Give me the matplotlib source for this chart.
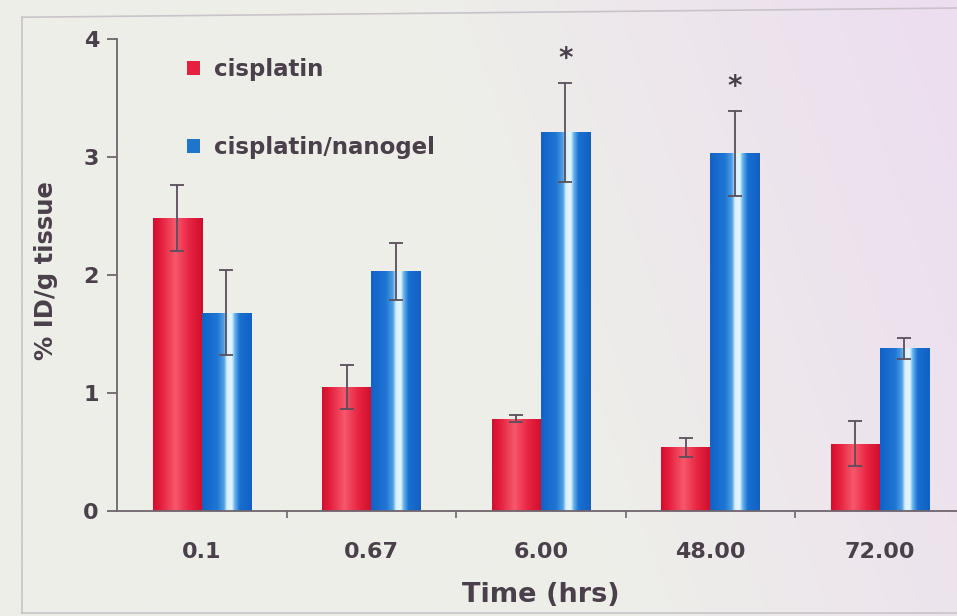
import numpy as np
import matplotlib.pyplot as plt

# data
times = ['0.1', '0.67', '6.00', '48.00', '72.00']
cis = [2.48, 1.05, 0.78, 0.54, 0.57]
cis_err = [0.28, 0.19, 0.03, 0.08, 0.19]
nano = [1.68, 2.03, 3.21, 3.03, 1.38]
nano_err = [0.36, 0.245, 0.42, 0.36, 0.09]
signif = [False, False, True, True, False]
labels = ['cisplatin', 'cisplatin/nanogel']

plt.rcParams['font.family'] = 'DejaVu Sans'
plt.rcParams['font.weight'] = 'bold'
txt = '#4a3f4a'
axc = '#6e646e'

fig = plt.figure(figsize=(9.57, 6.16), dpi=100)

# background: photographed slide, slightly pink on the right
bg = fig.add_axes([0, 0, 1, 1], zorder=0)
yy, xx = np.mgrid[0:1:62j, 0:1:96j]
base = np.array([238, 238, 233]) / 255
pink = np.array([236, 221, 240]) / 255
t = np.clip((xx - 0.45) * 1.8 - yy * 0.4, 0, 1)[..., None]
bg.imshow(base * (1 - t) + pink * t, extent=[0, 1, 0, 1], aspect='auto', interpolation='bilinear')
bg.plot([0.023, 0.023], [0.005, 0.972], color='#c9c3c9', lw=1.2)
bg.plot([0.023, 1.0], [0.972, 0.987], color='#c9c3c9', lw=1.2)
bg.plot([0.023, 1.0], [0.005, 0.005], color='#c9c3c9', lw=1.2)
bg.set_xlim(0, 1)
bg.set_ylim(0, 1)
bg.axis('off')

ax = fig.add_axes([0.1223, 0.1705, 0.8856, 0.7662], zorder=1)
ax.set_facecolor('none')

x = np.arange(len(times))
bw = 0.29
b1 = ax.bar(x - bw / 2, cis, bw, color='#e8203f', zorder=2, label=labels[0])
b2 = ax.bar(x + bw / 2, nano, bw, color='#1f74cc', zorder=2, label=labels[1])

# cylinder-like shading inside the bars
def profile(stops, n=60):
    pos = np.linspace(0, 1, n)
    p = [s[0] for s in stops]
    rgb = np.array([s[1] for s in stops]) / 255
    return np.stack([np.interp(pos, p, rgb[:, k]) for k in range(3)], axis=-1)[None, :, :]

red_grad = profile([(0, (210, 16, 46)), (0.15, (228, 30, 60)), (0.45, (246, 88, 108)),
                    (0.72, (232, 38, 68)), (1, (208, 14, 44))])
blue_grad = profile([(0, (18, 98, 200)), (0.3, (30, 118, 212)), (0.44, (80, 160, 228)),
                     (0.5, (215, 240, 255)), (0.6, (228, 246, 255)), (0.66, (100, 178, 236)),
                     (0.76, (24, 112, 208)), (1, (18, 96, 196))])
for bars, grad in [(b1, red_grad), (b2, blue_grad)]:
    for b in bars:
        im = ax.imshow(grad, extent=[b.get_x(), b.get_x() + b.get_width(), 0, b.get_height()],
                       aspect='auto', zorder=2.1, interpolation='bilinear')
        im.set_clip_path(b)

ek = dict(fmt='none', ecolor='#5a4e5a', elinewidth=1.3, capsize=5, capthick=1.3, zorder=3)
ax.errorbar(x - bw / 2, cis, yerr=cis_err, **ek)
ax.errorbar(x + bw / 2, nano, yerr=nano_err, **ek)

for i, s in enumerate(signif):
    if s:
        ax.text(x[i] + bw / 2, nano[i] + nano_err[i] + 0.2, '*', ha='center', va='center',
                fontsize=20, color=txt)

ax.set_xlim(-0.5, len(times) - 0.5)
ax.set_ylim(0, 4)
ax.set_xticks(x, times)
ax.set_xticks(np.arange(0.5, len(times) - 0.5, 1), minor=True)
ax.set_yticks([0, 1, 2, 3, 4])
ax.tick_params(axis='x', which='major', length=0, pad=22, labelsize=16, labelcolor=txt)
ax.tick_params(axis='x', which='minor', length=5, width=1.2, color=axc)
ax.tick_params(axis='y', length=7, width=1.3, color=axc, pad=6, labelsize=16, labelcolor=txt)
for sp in ['top', 'right']:
    ax.spines[sp].set_visible(False)
for sp in ['left', 'bottom']:
    ax.spines[sp].set_color(axc)
    ax.spines[sp].set_linewidth(1.3)

ax.set_xlabel('Time (hrs)', fontsize=19.5, fontweight='bold', color=txt, labelpad=15)
ax.set_ylabel('% ID/g tissue', fontsize=17.5, fontweight='bold', color=txt)
ax.yaxis.set_label_coords(-0.07, 0.51)

ax.legend(handles=[b1, b2], loc='upper left', bbox_to_anchor=(0.083, 0.96), frameon=False,
          fontsize=16.5, handlelength=0.55, handleheight=0.55, handletextpad=0.6,
          labelspacing=2.4, borderpad=0, borderaxespad=0, labelcolor=txt)

plt.savefig('out.png', dpi=100)
